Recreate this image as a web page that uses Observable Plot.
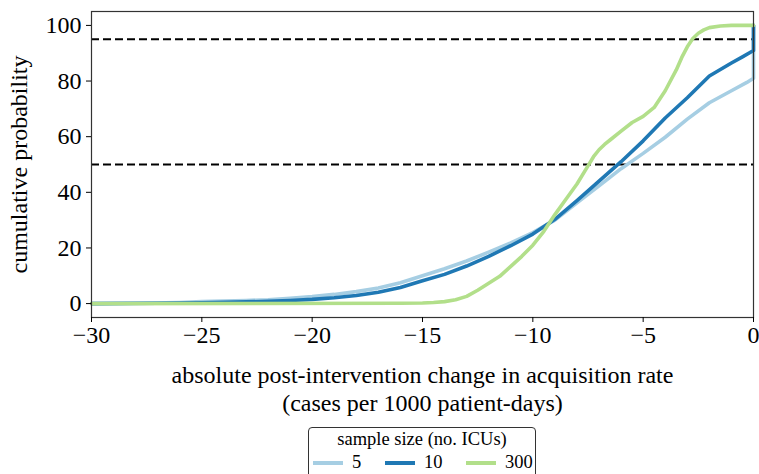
<!DOCTYPE html>
<html>
<head>
<meta charset="utf-8">
<script src="https://cdn.jsdelivr.net/npm/d3@7"></script>
<script src="https://cdn.jsdelivr.net/npm/@observablehq/plot@0.6"></script>
<style>
  html, body { margin: 0; padding: 0; background: #fff; }
  #wrap { position: relative; width: 759px; height: 474px; overflow: hidden; font-family: "Liberation Serif", "DejaVu Serif", serif; }
  #legend { position: absolute; left: 308px; top: 427px; width: 228px; height: 54px; border: 1px solid #333; border-radius: 4px; background: #fff; box-sizing: border-box; }
  #legend .title { position: absolute; left: 0; right: 0; top: 1px; text-align: center; font-size: 18.5px; color: #000; }
  #legend .item { position: absolute; top: 24px; font-size: 18.5px; color: #000; display: flex; align-items: center; }
  #legend .sw { display: inline-block; width: 30px; height: 4px; margin-right: 9px; }
</style>
</head>
<body>
<div id="wrap"></div>
<script>
// sample sizes (no. ICUs)
const seriesNames = ["5", "10", "300"];
const seriesColors = ["#a6cee3", "#1f78b4", "#b2df8a"];

// n = 5
const x5 = [-30, -28, -26, -25, -24, -23, -22, -21, -20, -19, -18, -17, -16, -15, -14, -13, -12, -11, -10, -9, -8, -7, -6, -5, -4, -3, -2, -1, -0.3, 0, 0];
const y5 = [0, 0.1, 0.4, 0.7, 0.9, 1.1, 1.4, 1.9, 2.5, 3.3, 4.3, 5.6, 7.5, 10, 12.5, 15.3, 18.5, 21.8, 25.5, 30, 36.2, 42.3, 48.5, 54, 59.8, 66.3, 72.2, 76.5, 79.5, 81, 100];

// n = 10
const x10 = [-30, -27, -25, -23, -22, -21, -20, -19, -18, -17, -16, -15, -14, -13, -12, -11, -10, -9, -8, -7, -6, -5, -4, -3, -2, -1, -0.5, 0, 0];
const y10 = [0, 0.1, 0.3, 0.6, 0.8, 1.1, 1.5, 2.1, 2.9, 4.1, 5.8, 8.2, 10.5, 13.5, 17, 20.8, 25, 30.3, 37, 44, 51, 58.5, 66.7, 74, 81.8, 86.5, 88.7, 91, 100];

// n = 300
const x300 = [-30, -16, -15, -14.5, -14, -13.5, -13, -12.5, -12, -11.5, -11, -10.5, -10, -9.5, -9, -8.5, -8, -7.5, -7.25, -7, -6.75, -6.5, -6, -5.5, -5, -4.5, -4, -3.5, -3.25, -3, -2.75, -2.5, -2.25, -2, -1.5, -1, 0];
const y300 = [0, 0.1, 0.2, 0.4, 0.7, 1.4, 2.6, 4.8, 7.3, 9.8, 13.4, 17, 21, 26, 32, 37.5, 43, 49.5, 52.8, 55.3, 57.2, 58.8, 62, 65.1, 67.3, 70.5, 76.5, 84, 88.5, 92.3, 95.3, 97.2, 98.4, 99.2, 99.8, 100, 100];

// reference thresholds
const thresholds = [50, 95];

// tick labels
const xTicks = [-30, -25, -20, -15, -10, -5, 0];
const yTicks = [0, 20, 40, 60, 80, 100];

const xLabel1 = "absolute post-intervention change in acquisition rate";
const xLabel2 = "(cases per 1000 patient-days)";
const yLabel = "cumulative probability";
const legendTitle = "sample size (no. ICUs)";

const toRows = (xs, ys) => xs.map((x, i) => ({x, y: ys[i]}));
const rows = [toRows(x5, y5), toRows(x10, y10), toRows(x300, y300)];

const FS = 24;

const plot = Plot.plot({
  width: 759,
  height: 420,
  marginLeft: 91,
  marginRight: 6,
  marginTop: 11,
  marginBottom: 103,
  style: {fontFamily: "'Liberation Serif', 'DejaVu Serif', serif", fontSize: FS + "px", color: "#000", background: "#fff"},
  x: {domain: [-30, 0]},
  y: {domain: [-5, 105]},
  marks: [
    Plot.ruleY(thresholds, {stroke: "#000", strokeWidth: 2, strokeDasharray: "8,4"}),
    ...rows.map((r, i) => Plot.line(r, {x: "x", y: "y", stroke: seriesColors[i], strokeWidth: 3.6, curve: "linear"})),
    Plot.frame({stroke: "#333", strokeWidth: 1.2}),
    Plot.axisX({ticks: xTicks, tickSize: 5, tickPadding: 3, label: null, fontSize: FS}),
    Plot.axisY({ticks: yTicks, tickSize: 5, tickPadding: 5, label: null, fontSize: FS}),
    Plot.text([xLabel1], {text: d => d, frameAnchor: "bottom", dy: 58, lineAnchor: "middle", fontSize: FS}),
    Plot.text([xLabel2], {text: d => d, frameAnchor: "bottom", dy: 86, lineAnchor: "middle", fontSize: FS}),
    Plot.text([yLabel], {text: d => d, frameAnchor: "left", dx: -72, rotate: -90, lineAnchor: "middle", textAnchor: "middle", fontSize: FS})
  ]
});

const wrap = document.getElementById("wrap");
wrap.appendChild(plot);

const legend = document.createElement("div");
legend.id = "legend";
const t = document.createElement("div");
t.className = "title";
t.textContent = legendTitle;
legend.appendChild(t);
const itemLeft = [4, 76, 157];
seriesNames.forEach((name, i) => {
  const it = document.createElement("div");
  it.className = "item";
  it.style.left = itemLeft[i] + "px";
  const sw = document.createElement("span");
  sw.className = "sw";
  sw.style.background = seriesColors[i];
  it.appendChild(sw);
  const lab = document.createElement("span");
  lab.textContent = name;
  it.appendChild(lab);
  legend.appendChild(it);
});
wrap.appendChild(legend);
</script>
</body>
</html>
